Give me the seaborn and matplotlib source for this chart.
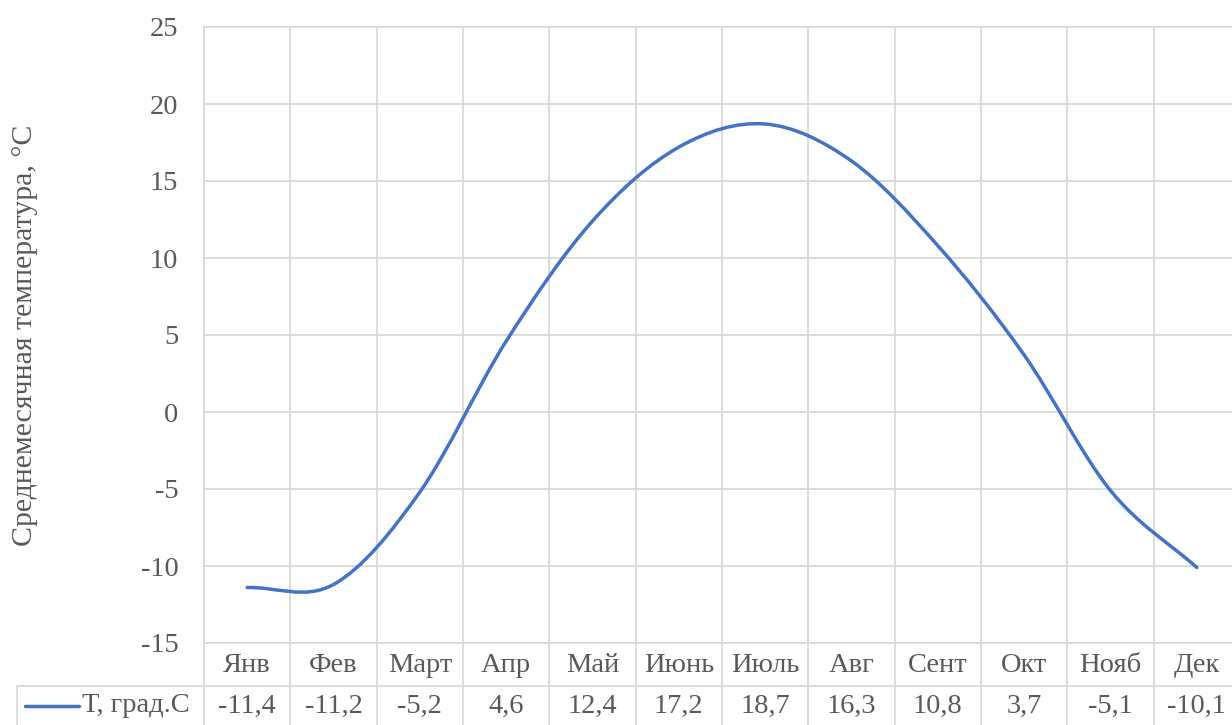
import numpy as np
import matplotlib
matplotlib.use("Agg")
import matplotlib.pyplot as plt
from matplotlib.path import Path
from matplotlib.patches import PathPatch
import seaborn as sns

# Monthly mean air temperature
months = ["Янв", "Фев", "Март", "Апр", "Май", "Июнь", "Июль",
          "Авг", "Сент", "Окт", "Нояб", "Дек"]
temps = [-11.4, -11.2, -5.2, 4.6, 12.4, 17.2, 18.7, 16.3, 10.8, 3.7, -5.1, -10.1]
series_name = "Т, град.С"
y_label = "Среднемесячная температура, °С"
y_ticks = [-15, -10, -5, 0, 5, 10, 15, 20, 25]

sns.set_theme(style="white")
plt.rcParams["font.family"] = ["Liberation Serif", "DejaVu Serif"]

TEXT = "#595959"
GRID = "#D9D9D9"
LINE = "#4472C4"
FS = 20.5

W, H = 1232, 725
fig = plt.figure(figsize=(W / 100, H / 100), dpi=100)

# plot area in pixel coordinates
x0, x1 = 204, 1240
y_top, y_bot = 27, 643
ax = fig.add_axes([x0 / W, 1 - y_bot / H, (x1 - x0) / W, (y_bot - y_top) / H])

n = len(months)
ax.set_xlim(0, n)
ax.set_ylim(y_ticks[0], y_ticks[-1])
ax.set_xticks(range(n + 1))
ax.set_xticklabels([])
ax.set_yticks(y_ticks)
ax.set_yticklabels([f"{t}" for t in y_ticks], fontsize=FS, color=TEXT)
ax.tick_params(axis="both", length=0)
ax.tick_params(axis="y", pad=18.5)
ax.grid(True, color=GRID, linewidth=1.3)
for side, sp in ax.spines.items():
    sp.set_color(GRID)
    sp.set_linewidth(1.3)
    sp.set_visible(side in ("left", "top", "bottom"))

# smoothed line through the monthly values (cubic Bezier segments)
xs = np.arange(n) + 0.5
ys = np.array(temps, dtype=float)
P = np.column_stack([xs, ys])
tang = np.zeros_like(P)
tang[1:-1] = (P[2:] - P[:-2]) / 2
tang[0] = P[1] - P[0]
tang[-1] = P[-1] - P[-2]
verts = [P[0]]
codes = [Path.MOVETO]
for i in range(n - 1):
    verts += [P[i] + tang[i] / 3, P[i + 1] - tang[i + 1] / 3, P[i + 1]]
    codes += [Path.CURVE4] * 3
ax.add_patch(PathPatch(Path(verts, codes), facecolor="none", edgecolor=LINE,
                       linewidth=2.5, capstyle="round", joinstyle="round",
                       zorder=3))

fig.text(25 / W, 1 - (y_top + y_bot) / 2 / H, y_label, rotation=90,
         ha="center", va="center", fontsize=21.5, color=TEXT)

# data table under the plot
tab = fig.add_axes([x0 / W, 0, (x1 - x0) / W, (H - y_bot) / H])
tab.set_xlim(0, n)
tab.set_ylim(H - y_bot, 0)
tab.axis("off")
col_px = (x1 - x0) / n
row_split = 686 - y_bot
legend_left = (17 - x0) / col_px
for k in range(n + 1):
    tab.plot([k, k], [0, H - y_bot], color=GRID, linewidth=1.3, clip_on=False)
tab.plot([legend_left, n], [row_split, row_split], color=GRID, linewidth=1.3,
         clip_on=False)
tab.plot([legend_left, legend_left], [row_split, H - y_bot], color=GRID,
         linewidth=1.3, clip_on=False)
for i, (m, t) in enumerate(zip(months, temps)):
    tab.text(i + 0.5, 23, m, ha="center", va="center", fontsize=FS, color=TEXT)
    tab.text(i + 0.5, 63, f"{t:.1f}".replace(".", ","), ha="center",
             va="center", fontsize=FS, color=TEXT)
tab.plot([(25 - x0) / col_px, (79 - x0) / col_px], [63, 63], color=LINE,
         linewidth=2.5, solid_capstyle="round", clip_on=False)
tab.text((82 - x0) / col_px, 63, series_name, ha="left", va="center",
         fontsize=FS, color=TEXT)

fig.savefig("out.png", dpi=100)
